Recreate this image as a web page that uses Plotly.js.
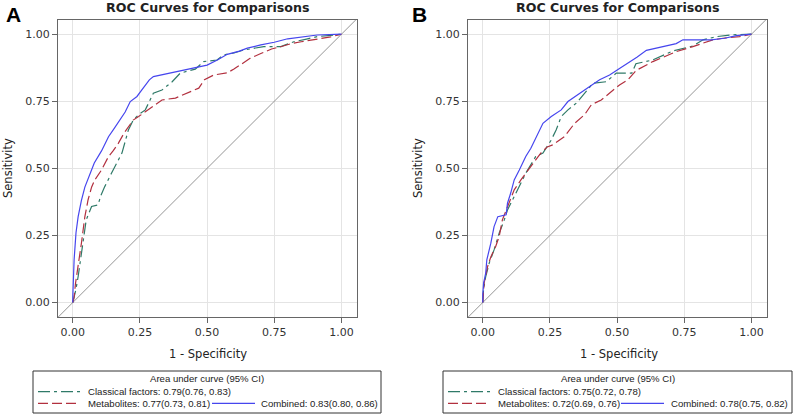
<!DOCTYPE html>
<html>
<head>
<meta charset="utf-8">
<script src="https://cdn.plot.ly/plotly-3.0.1.min.js"></script>
<style>html,body{margin:0;padding:0;background:#fff;}#chart{width:793px;height:415px;}</style>
</head>
<body>
<div id="chart"></div>
<script>
// ---------- data ----------
var tickVals = [0, 0.25, 0.5, 0.75, 1];
var tickText = ["0.00", "0.25", "0.50", "0.75", "1.00"];

// Panel A
var aClassicalFpr = [0,0.005,0.012,0.02,0.03,0.038,0.05,0.07,0.094,0.105,0.119,0.144,0.165,0.183,0.195,0.207,0.225,0.245,0.27,0.285,0.30,0.332,0.37,0.40,0.456,0.487,0.537,0.562,0.6,0.636,0.711,0.774,0.823,0.87,0.91,0.96,1];
var aClassicalTpr = [0,0.02,0.05,0.097,0.17,0.22,0.308,0.358,0.364,0.40,0.432,0.482,0.52,0.557,0.60,0.643,0.68,0.70,0.718,0.75,0.78,0.792,0.823,0.855,0.87,0.898,0.904,0.923,0.93,0.941,0.954,0.954,0.972,0.982,0.991,0.996,1];
var aMetabFpr = [0,0.005,0.01,0.02,0.032,0.045,0.057,0.07,0.082,0.107,0.133,0.15,0.17,0.19,0.207,0.225,0.245,0.27,0.295,0.332,0.382,0.431,0.469,0.49,0.525,0.575,0.6,0.63,0.66,0.7,0.74,0.78,0.81,0.85,0.91,0.96,1];
var aMetabTpr = [0,0.02,0.07,0.134,0.22,0.32,0.383,0.43,0.457,0.494,0.544,0.565,0.594,0.63,0.656,0.68,0.693,0.71,0.73,0.755,0.762,0.782,0.799,0.83,0.848,0.856,0.87,0.89,0.91,0.928,0.945,0.955,0.964,0.972,0.982,0.99,1];
var aCombFpr = [0,0,0.005,0.012,0.02,0.032,0.045,0.06,0.08,0.107,0.133,0.155,0.176,0.195,0.214,0.239,0.255,0.27,0.285,0.30,0.344,0.394,0.45,0.5,0.54,0.575,0.62,0.65,0.7,0.75,0.8,0.86,0.91,1];
var aCombTpr = [0,0.02,0.16,0.26,0.32,0.38,0.43,0.47,0.52,0.565,0.618,0.65,0.68,0.71,0.749,0.768,0.79,0.811,0.83,0.842,0.851,0.861,0.872,0.885,0.905,0.925,0.937,0.948,0.96,0.97,0.983,0.99,0.997,1];

// Panel B
var bClassicalFpr = [0,0.003,0.011,0.024,0.042,0.061,0.08,0.092,0.117,0.136,0.16,0.197,0.224,0.255,0.273,0.292,0.317,0.348,0.379,0.41,0.46,0.49,0.497,0.555,0.57,0.633,0.708,0.782,0.82,0.87,0.93,1];
var bClassicalTpr = [0,0.05,0.097,0.147,0.196,0.258,0.308,0.345,0.395,0.432,0.482,0.544,0.557,0.606,0.643,0.693,0.718,0.743,0.78,0.817,0.823,0.848,0.855,0.855,0.89,0.904,0.938,0.956,0.979,0.991,0.998,1];
var bMetabFpr = [0,0.003,0.005,0.018,0.03,0.048,0.061,0.073,0.092,0.117,0.142,0.179,0.216,0.24,0.261,0.304,0.342,0.379,0.404,0.441,0.472,0.509,0.54,0.571,0.633,0.72,0.782,0.82,0.857,0.894,0.956,1];
var bMetabTpr = [0,0.03,0.072,0.134,0.17,0.209,0.246,0.308,0.358,0.42,0.457,0.507,0.557,0.58,0.588,0.618,0.668,0.70,0.737,0.755,0.78,0.811,0.83,0.865,0.898,0.935,0.954,0.966,0.979,0.985,0.991,1];
var bCombFpr = [0,0,0.003,0.011,0.015,0.03,0.042,0.056,0.087,0.092,0.104,0.117,0.136,0.16,0.179,0.199,0.224,0.255,0.292,0.317,0.36,0.398,0.435,0.472,0.509,0.54,0.575,0.609,0.67,0.72,0.745,0.85,0.9,0.944,1];
var bCombTpr = [0,0.03,0.072,0.11,0.159,0.221,0.283,0.32,0.327,0.37,0.408,0.457,0.494,0.544,0.575,0.618,0.668,0.693,0.718,0.749,0.78,0.805,0.83,0.848,0.872,0.892,0.915,0.94,0.954,0.965,0.979,0.979,0.985,0.995,1];

var diagonal = [-0.2, 1.2];

var panelLabels = ["A", "B"];
var chartTitle = "ROC Curves for Comparisons";
var xTitle = "1 - Specificity";
var yTitle = "Sensitivity";
var legendHeader = "Area under curve (95% CI)";
var aLegend = ["Classical factors: 0.79(0.76, 0.83)", "Metabolites: 0.77(0.73, 0.81)", "Combined: 0.83(0.80, 0.86)"];
var bLegend = ["Classical factors: 0.75(0.72, 0.78)", "Metabolites: 0.72(0.69, 0.76)", "Combined: 0.78(0.75, 0.82)"];

// ---------- styles ----------
var W = 793, H = 415;
var cGreen = "#2f7a68", cRed = "#b2303f", cBlue = "#4646ee";
var dGreen = "12px,4px,3px,4px", dRed = "10px,4px";
var lw = 1.2;
function px(x){ return x / W; }
function py(y){ return 1 - y / H; }

function tr(x, y, color, dash, xa, ya){
  return {x: x, y: y, type: "scatter", mode: "lines", xaxis: xa, yaxis: ya,
    line: {color: color, width: lw, dash: dash}, hoverinfo: "skip", showlegend: false};
}
var traces = [
  tr(diagonal, diagonal, "#7a7a7a", "solid", "x", "y"),
  tr(aClassicalFpr, aClassicalTpr, cGreen, dGreen, "x", "y"),
  tr(aMetabFpr, aMetabTpr, cRed, dRed, "x", "y"),
  tr(aCombFpr, aCombTpr, cBlue, "solid", "x", "y"),
  tr(diagonal, diagonal, "#7a7a7a", "solid", "x2", "y2"),
  tr(bClassicalFpr, bClassicalTpr, cGreen, dGreen, "x2", "y2"),
  tr(bMetabFpr, bMetabTpr, cRed, dRed, "x2", "y2"),
  tr(bCombFpr, bCombTpr, cBlue, "solid", "x2", "y2")
];
traces[0].line.width = 0.8; traces[4].line.width = 0.8;

var tickFont = {family: "DejaVu Sans", size: 11, color: "#333"};
function axis(domain, range, anchor){
  return {domain: domain, range: range, anchor: anchor, tickvals: tickVals, ticktext: tickText,
    showgrid: true, gridcolor: "#e4e4e4", gridwidth: 1, zeroline: false,
    showline: true, mirror: true, linecolor: "#666", linewidth: 1,
    ticks: "outside", ticklen: 5, tickcolor: "#666", tickfont: tickFont, fixedrange: true};
}
var yDom = [py(317), py(20)];
var xr = [-0.055, 1.058], yr = [-0.054, 1.053];

// panel geometry in px
var panels = [
  {l: 58, r: 357, box: [33, 381], samp: 38, txt: 86, samp2: 212, txt2: 259, leg: aLegend, lab: 13},
  {l: 468, r: 767, box: [443, 792], samp: 448, txt: 496, samp2: 621, txt2: 669, leg: bLegend, lab: 420}
];

var annotations = [], shapes = [];
var txtFont = {family: "Liberation Sans", size: 9.6, color: "#222"};
panels.forEach(function(p, i){
  var cx = (p.l + p.r) / 2;
  annotations.push({text: "<b>" + chartTitle + "</b>", x: px(cx), y: py(7.5), xref: "paper", yref: "paper",
    showarrow: false, xanchor: "center", yanchor: "middle", font: {family: "DejaVu Sans", size: 12.6, color: "#222"}});
  annotations.push({text: "<b>" + panelLabels[i] + "</b>", x: px(p.lab), y: py(14.5), xref: "paper", yref: "paper",
    showarrow: false, xanchor: "center", yanchor: "middle", font: {family: "Liberation Sans", size: 21, color: "#000"}});
  annotations.push({text: xTitle, x: px(cx + 1), y: py(354), xref: "paper", yref: "paper",
    showarrow: false, xanchor: "center", yanchor: "middle", font: {family: "DejaVu Sans", size: 11.5, color: "#222"}});
  annotations.push({text: yTitle, x: px(p.l - 50), y: py(168), xref: "paper", yref: "paper", textangle: -90,
    showarrow: false, xanchor: "center", yanchor: "middle", font: {family: "DejaVu Sans", size: 11.5, color: "#222"}});
  // legend box
  shapes.push({type: "rect", xref: "paper", yref: "paper", x0: px(p.box[0]), x1: px(p.box[1]), y0: py(413), y1: py(371),
    line: {color: "#333", width: 1}, fillcolor: "rgba(0,0,0,0)"});
  annotations.push({text: legendHeader, x: px((p.box[0] + p.box[1]) / 2), y: py(378.5), xref: "paper", yref: "paper",
    showarrow: false, xanchor: "center", yanchor: "middle", font: txtFont});
  shapes.push({type: "line", xref: "paper", yref: "paper", x0: px(p.samp), x1: px(p.samp + 42), y0: py(391.7), y1: py(391.7),
    line: {color: cGreen, width: lw, dash: dGreen}});
  annotations.push({text: p.leg[0], x: px(p.txt), y: py(391.7), xref: "paper", yref: "paper",
    showarrow: false, xanchor: "left", yanchor: "middle", font: txtFont});
  shapes.push({type: "line", xref: "paper", yref: "paper", x0: px(p.samp), x1: px(p.samp + 42), y0: py(403.3), y1: py(403.3),
    line: {color: cRed, width: lw, dash: dRed}});
  annotations.push({text: p.leg[1], x: px(p.txt), y: py(403.3), xref: "paper", yref: "paper",
    showarrow: false, xanchor: "left", yanchor: "middle", font: txtFont});
  shapes.push({type: "line", xref: "paper", yref: "paper", x0: px(p.samp2), x1: px(p.samp2 + 43), y0: py(403.3), y1: py(403.3),
    line: {color: cBlue, width: lw}});
  annotations.push({text: p.leg[2], x: px(p.txt2), y: py(403.3), xref: "paper", yref: "paper",
    showarrow: false, xanchor: "left", yanchor: "middle", font: txtFont});
});

var layout = {
  width: W, height: H, margin: {l: 0, r: 0, t: 0, b: 0},
  paper_bgcolor: "#fff", plot_bgcolor: "#fff", showlegend: false,
  xaxis: axis([px(58), px(357)], xr, "y"),
  yaxis: axis(yDom, yr, "x"),
  xaxis2: axis([px(468), px(767)], xr, "y2"),
  yaxis2: axis(yDom, yr, "x2"),
  annotations: annotations, shapes: shapes
};

Plotly.newPlot("chart", traces, layout, {staticPlot: true, displayModeBar: false});
</script>
</body>
</html>
